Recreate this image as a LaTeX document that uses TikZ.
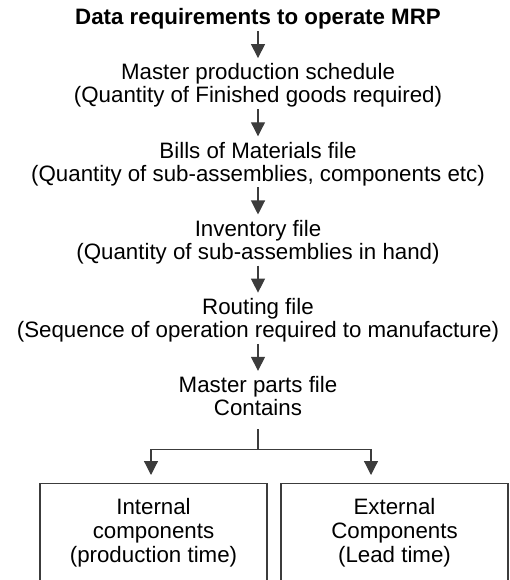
\documentclass[tikz,border=0pt]{standalone}
\usepackage{fontspec}
\setmainfont{Liberation Sans}
\usepackage{tikz}
\usetikzlibrary{
  arrows.meta,
  positioning
}
\definecolor{linegray}{RGB}{60,60,60}
\tikzset{
  datanode/.style={align=center, inner sep=0pt,
    font=\fontsize{22.3}{23}\selectfont},
  compbox/.style={draw=linegray, line width=1.2pt,
    minimum width=227pt, minimum height=98pt, inner sep=0pt,
    align=center, font=\fontsize{22.3}{24}\selectfont},
  conn/.style={draw=linegray, line width=1.2pt},
  arr/.style={-{Triangle[length=14pt, width=14pt]}, conn},
}

\begin{document}
\begin{tikzpicture}[x=1pt, y=-1pt, node distance=34pt]
  \clip (0,0) rectangle (509,580);

  % Title
  \node[datanode, font=\fontsize{22.3}{23}\selectfont\bfseries] (req) at (258,19)
    {Data requirements to operate MRP};

  % Data files
  \node[datanode, below=of req] (mps)
    {Master production schedule\\(Quantity of Finished goods required)};
  \node[datanode, below=of mps] (bom)
    {Bills of Materials file\\(Quantity of sub-assemblies, components etc)};
  \node[datanode, below=of bom] (inv)
    {Inventory file\\(Quantity of sub-assemblies in hand)};
  \node[datanode, below=of inv] (rout)
    {Routing file\\(Sequence of operation required to manufacture)};
  \node[datanode, below=of rout] (mpf)
    {Master parts file\\Contains};

  % Arrows
  \foreach \a/\b in {req/mps, mps/bom, bom/inv, inv/rout, rout/mpf}
    \draw[arr, shorten <=1.5pt, shorten >=5.5pt] (\a) -- (\b);

  % Components
  \node[compbox, anchor=north] (intc) at (153.5,483)
    {Internal\\components\\(production time)};
  \node[compbox, anchor=north] (extc) at (394.5,483)
    {External\\Components\\(Lead time)};

  % Branch
  \coordinate[below=33pt of mpf.south] (split);
  \path (split) ++(-107,0) coordinate (bl);
  \path (split) ++(113,0) coordinate (br);
  \draw[conn, shorten <=13pt] (mpf.south) -- (split);
  \draw[conn] (bl) -- (br);
  \draw[arr, shorten >=8pt] (bl) -- (bl |- intc.north);
  \draw[arr, shorten >=8pt] (br) -- (br |- extc.north);
\end{tikzpicture}
\end{document}
